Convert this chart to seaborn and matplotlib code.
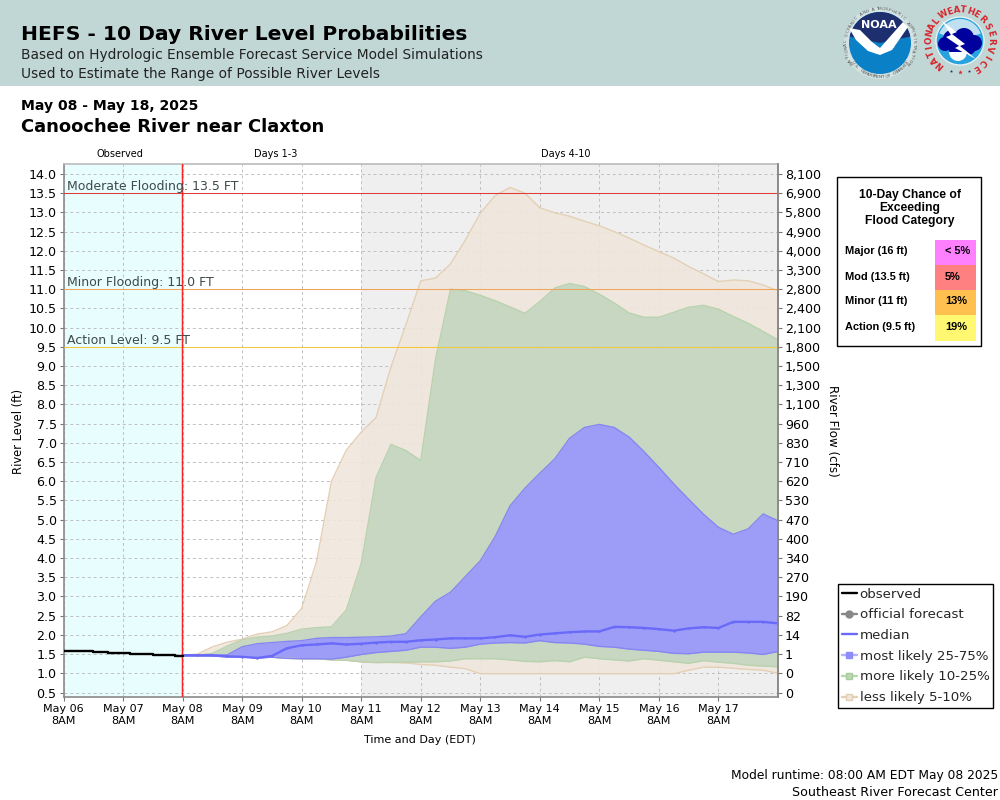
import numpy as np
import pandas as pd
import seaborn as sns
import matplotlib
matplotlib.use("Agg")
import matplotlib.pyplot as plt
from matplotlib.lines import Line2D
from matplotlib.patches import Rectangle, Circle, Polygon, Wedge

day_labels = ["May 06", "May 07", "May 08", "May 09", "May 10", "May 11",
              "May 12", "May 13", "May 14", "May 15", "May 16", "May 17"]
level_ticks = [0.5, 1.0, 1.5, 2.0, 2.5, 3.0, 3.5, 4.0, 4.5, 5.0, 5.5, 6.0, 6.5, 7.0,
               7.5, 8.0, 8.5, 9.0, 9.5, 10.0, 10.5, 11.0, 11.5, 12.0, 12.5, 13.0, 13.5, 14.0]
flow_labels = ["0", "0", "1", "14", "82", "190", "270", "340", "400", "470", "530", "620",
               "710", "830", "960", "1,100", "1,300", "1,500", "1,800", "2,100", "2,400",
               "2,800", "3,300", "4,000", "4,900", "5,800", "6,900", "8,100"]

obs_days = [0, .125, .25, .375, .5, .625, .75, .875, 1, 1.125, 1.25, 1.375, 1.5, 1.625, 1.75, 1.875, 2]
obs_level = [1.59, 1.59, 1.59, 1.58, 1.56, 1.55, 1.53, 1.53, 1.53, 1.5, 1.5, 1.5, 1.48, 1.48, 1.48, 1.46, 1.46]

fc_days = [2, 2.25, 2.5, 2.75, 3, 3.25, 3.5, 3.75, 4, 4.25, 4.5, 4.75, 5, 5.25, 5.5, 5.75, 6, 6.25, 6.5, 6.75,
           7, 7.25, 7.5, 7.75, 8, 8.25, 8.5, 8.75, 9, 9.25, 9.5, 9.75, 10, 10.25, 10.5, 10.75, 11, 11.25, 11.5, 11.75, 12]
tan_top = [1.47, 1.5, 1.69, 1.81, 1.89, 2.02, 2.08, 2.24, 2.69, 3.91, 6.0, 6.81, 7.28, 7.66, 8.98, 10.07,
           11.22, 11.29, 11.66, 12.28, 12.98, 13.44, 13.65, 13.5, 13.12, 12.99, 12.9, 12.77, 12.65, 12.5, 12.33,
           12.15, 11.98, 11.81, 11.59, 11.4, 11.2, 11.24, 11.22, 11.11, 10.96]
green_top = [1.47, 1.47, 1.52, 1.71, 1.87, 1.94, 1.97, 2.04, 2.15, 2.19, 2.21, 2.65, 3.86, 6.1, 6.96, 6.8, 6.54, 9.2,
             11.0, 10.96, 10.84, 10.7, 10.54, 10.37, 10.68, 11.03, 11.15, 11.07, 10.87, 10.64, 10.38, 10.27, 10.27,
             10.4, 10.53, 10.58, 10.48, 10.29, 10.11, 9.9, 9.68]
blue_top = [1.47, 1.47, 1.47, 1.48, 1.69, 1.77, 1.80, 1.83, 1.85, 1.91, 1.93, 1.93, 1.94, 1.95, 1.97, 2.03,
            2.47, 2.88, 3.11, 3.52, 3.93, 4.56, 5.36, 5.82, 6.21, 6.58, 7.12, 7.4, 7.48, 7.4, 7.15, 6.77, 6.36,
            5.93, 5.53, 5.14, 4.8, 4.62, 4.76, 5.15, 4.97]
median = [1.47, 1.47, 1.47, 1.44, 1.43, 1.40, 1.45, 1.65, 1.73, 1.75, 1.78, 1.75, 1.77, 1.8, 1.82, 1.82,
          1.86, 1.88, 1.91, 1.91, 1.91, 1.94, 1.99, 1.95, 2.01, 2.04, 2.07, 2.09, 2.09, 2.21, 2.2, 2.18, 2.15,
          2.11, 2.17, 2.2, 2.18, 2.34, 2.34, 2.34, 2.3]
blue_bot = [1.45, 1.45, 1.45, 1.43, 1.43, 1.40, 1.42, 1.39, 1.38, 1.38, 1.37, 1.42, 1.49, 1.54, 1.57, 1.6,
            1.68, 1.68, 1.65, 1.68, 1.76, 1.79, 1.8, 1.79, 1.85, 1.8, 1.79, 1.76, 1.70, 1.68, 1.63, 1.6, 1.57,
            1.52, 1.51, 1.55, 1.55, 1.55, 1.53, 1.49, 1.57]
green_bot = [1.45, 1.45, 1.45, 1.43, 1.43, 1.40, 1.42, 1.39, 1.38, 1.38, 1.35, 1.34, 1.30, 1.28, 1.29, 1.29,
             1.30, 1.30, 1.32, 1.38, 1.38, 1.38, 1.35, 1.31, 1.30, 1.33, 1.30, 1.42, 1.38, 1.35, 1.32, 1.38, 1.34,
             1.30, 1.26, 1.33, 1.29, 1.26, 1.21, 1.19, 1.17]
tan_bot = [1.45, 1.45, 1.45, 1.43, 1.43, 1.40, 1.42, 1.39, 1.38, 1.38, 1.35, 1.34, 1.30, 1.28, 1.28, 1.27,
           1.23, 1.21, 1.16, 1.12, .99, .99, .99, .99, .99, .99, .99, .99, .99, .99, .99, .99, .99, .99,
           1.08, 1.16, 1.16, 1.13, 1.1, 1.08, 1.0]

thresholds = [13.5, 11.0, 9.5]
threshold_labels = ["Moderate Flooding: 13.5 FT", "Minor Flooding: 11.0 FT", "Action Level: 9.5 FT"]
threshold_colors = ["#E03A3A", "#F0A45A", "#F2C83C"]

cat_names = ["Major (16 ft)", "Mod (13.5 ft)", "Minor (11 ft)", "Action (9.5 ft)"]
cat_chance = ["< 5%", "5%", "13%", "19%"]
cat_colors = ["#FF80FF", "#FF8080", "#FFC050", "#FFF870"]

sns.set_theme(style="white")
plt.rcParams["font.family"] = ["DejaVu Sans"]

TAN, GREEN, BLUE, BLUE_LINE = "#F0E7DB", "#C2D5BF", "#9895FF", "#6A6AFA"
df = pd.DataFrame({"day": fc_days, "median": median})
obs = pd.DataFrame({"day": obs_days, "level": obs_level})

fig = plt.figure(figsize=(10, 8), dpi=100, facecolor="white")

# page layer in pixel units
bg = fig.add_axes([0, 0, 1, 1], zorder=0)
bg.set_xlim(0, 1000); bg.set_ylim(800, 0); bg.axis("off")
bg.add_patch(Rectangle((0, 0), 1000, 86, fc="#C1D7D5", ec="none"))
BLK = "#000000"
bg.text(21, 40, "HEFS - 10 Day River Level Probabilities", fontsize=14.6, fontweight="bold", color=BLK, va="baseline")
bg.text(21, 59, "Based on Hydrologic Ensemble Forecast Service Model Simulations", fontsize=9.93, color="#222222", va="baseline")
bg.text(21, 78, "Used to Estimate the Range of Possible River Levels", fontsize=9.93, color="#222222", va="baseline")
bg.text(21, 110, "May 08 - May 18, 2025", fontsize=10.1, fontweight="bold", color=BLK, va="baseline")
bg.text(21, 132, "Canoochee River near Claxton", fontsize=12.9, fontweight="bold", color=BLK, va="baseline")
for cx, s in [(120, "Observed"), (276, "Days 1-3"), (566, "Days 4-10")]:
    bg.text(cx, 154, s, fontsize=7, ha="center", va="center", color=BLK)
bg.text(420, 740, "Time and Day (EDT)", fontsize=8, ha="center", va="center", color=BLK)
bg.text(19, 431, "River Level (ft)", fontsize=8.3, rotation=90, ha="center", va="center", color=BLK)
bg.text(832, 431, "River Flow (cfs)", fontsize=8.6, rotation=270, ha="center", va="center", color=BLK)
bg.text(998, 776, "Model runtime: 08:00 AM EDT May 08 2025", fontsize=8.85, ha="right", va="center", color=BLK)
bg.text(998, 792, "Southeast River Forecast Center", fontsize=9.05, ha="right", va="center", color=BLK)


def ring_text(text, cx, cy, r, start, end, size, color, weight="normal", inward=False):
    angs = np.linspace(start, end, len(text))
    for ch, a in zip(text, angs):
        t = np.deg2rad(a)
        bg.text(cx + r * np.sin(t), cy - r * np.cos(t), ch, fontsize=size, color=color, fontweight=weight,
                rotation=-a + 180 if inward else -a, ha="center", va="center", rotation_mode="anchor")


# NOAA logo
nx, ny = 880, 43
bg.add_patch(Circle((nx, ny), 36, fc="#D3E2E2", ec="none"))
bg.add_patch(Circle((nx, ny), 31, fc="#0A80C6", ec="none"))
bg.add_patch(Wedge((nx, ny), 31, 192, 348, fc="#1D2F6F", ec="none"))
bg.add_patch(Polygon([(849, 28), (860, 30), (872, 42), (880, 48), (903, 22), (908, 27), (892, 50),
                      (880, 55), (868, 51), (856, 40)], closed=True, fc="white", ec="none"))
bg.add_patch(Polygon([(872, 50), (895, 47), (877, 54)], closed=True, fc="white", ec="none"))
bg.text(nx - 1, 25, "NOAA", fontsize=8, fontweight="bold", color="white", ha="center", va="center")
ring_text("NATIONAL OCEANIC AND ATMOSPHERIC ADMINISTRATION", nx, ny, 34, -125, 125, 3.2, "#555555")
ring_text("U.S. DEPARTMENT OF COMMERCE", nx, ny, 34, 235, 125, 3.2, "#555555", inward=True)

# NWS logo
wx, wy = 960, 41
bg.add_patch(Circle((wx, wy), 24, fc="#29A3E0", ec="#E8F2F2", lw=1))
bg.add_patch(Wedge((wx, wy), 22, 200, 340, fc="#BFE0F0", ec="none"))
for dx, dy, r in [(-15, 3, 7), (-8, -2, 9), (4, -3, 10), (14, 2, 8), (-4, 6, 8), (8, 6, 8)]:
    bg.add_patch(Circle((wx + dx, wy + dy), r, fc="#00009C", ec="none"))
bg.add_patch(Wedge((wx - 2, wy + 11), 9, 0, 180, fc="white", ec="none"))
bg.add_patch(Polygon([(942, 21), (957, 32), (952, 34), (965, 44), (960, 46), (976, 59), (955, 48), (959, 46), (946, 37), (951, 35)],
                     closed=True, fc="white", ec="none"))
ring_text("NATIONAL", wx, wy, 31, -140, -50, 6.2, "#D8232A", "bold")
ring_text("WEATHER", wx, wy, 31, -32, 45, 6.2, "#D8232A", "bold")
ring_text("SERVICE", wx, wy, 31, 62, 148, 6.2, "#D8232A", "bold")
for dx, c in [(-9, "#1D2F6F"), (0, "#D8232A"), (9, "#1D2F6F")]:
    bg.scatter([wx + dx], [wy + 31 - abs(dx) * .1], s=6 if dx else 12, marker="*", color=c, linewidths=0)

# flood-category table
bg.add_patch(Rectangle((836.5, 176.5), 144, 169, fc="white", ec="black", lw=1))
for i, s in enumerate(["10-Day Chance of", "Exceeding", "Flood Category"]):
    bg.text(910, 195 + 13 * i, s, fontsize=8.7, fontweight="bold", family="Liberation Sans", ha="center", va="center", color=BLK)
for i, (n, c, col) in enumerate(zip(cat_names, cat_chance, cat_colors)):
    y0 = 240 + 25 * i
    bg.add_patch(Rectangle((935, y0), 41, 25 if i < 3 else 26, fc=col, ec="none"))
    bg.text(845, y0 + 11.5, n, fontsize=7.9, fontweight="bold", family="Liberation Sans", va="center", color=BLK)
    bg.text(945, y0 + 11.5, c, fontsize=7.9, fontweight="bold", family="Liberation Sans", va="center", color=BLK)

# main plot
ax = fig.add_axes([0.0635, 103 / 800, 0.7145, 533 / 800], zorder=2)
ax.set_facecolor("none")
ax.set_xlim(0, 12)
ax.set_ylim(0.383, 14.26)
ax.axvspan(0, 2, color="#E8FDFD", lw=0, zorder=0.1)
ax.axvspan(5, 12, color="#EFEFEF", lw=0, zorder=0.1)

ax.fill_between(fc_days, tan_bot, tan_top, color=TAN, alpha=.88, lw=0, zorder=2)
ax.fill_between(fc_days, green_bot, green_top, color=GREEN, alpha=.88, lw=0, zorder=2.1)
ax.fill_between(fc_days, blue_bot, blue_top, color=BLUE, alpha=.88, lw=0, zorder=2.2)
for series, col, z in [(tan_top, "#E5CFB5", 2.3), (tan_bot, "#E5CFB5", 2.3), (green_top, "#B8D2AE", 2.4),
                       (green_bot, "#B8D2AE", 2.4), (blue_top, "#8686F2", 2.5), (blue_bot, "#8686F2", 2.5)]:
    sns.lineplot(x=fc_days, y=series, ax=ax, color=col, lw=1.0, zorder=z, errorbar=None)
sns.lineplot(data=df, x="day", y="median", ax=ax, color=BLUE_LINE, lw=1.7, zorder=3, errorbar=None,
             marker="o", markersize=1.8, markeredgewidth=0)
sns.lineplot(data=obs, x="day", y="level", ax=ax, color="black", lw=1.7, zorder=4, errorbar=None,
             drawstyle="steps-post")

for v, s, c in zip(thresholds, threshold_labels, threshold_colors):
    ax.axhline(v, color=c, lw=.75, zorder=3.5)
    ax.text(0.06, v - 0.005, s, fontsize=9.0, color="#3F4A4A", va="bottom", ha="left", zorder=5)
ax.axvline(1.995, color="#FF2020", lw=1.05, zorder=3.6)

ax.set_xlabel(""); ax.set_ylabel("")
ax.set_xticks(range(len(day_labels)))
ax.set_xticklabels([d + "\n8AM" for d in day_labels], fontsize=8, linespacing=1.2, color="black")
ax.set_yticks(level_ticks)
ax.set_yticklabels(["%.1f" % v for v in level_ticks], fontsize=9.1, color="black")
ax.grid(True, color="#C0C0C0", ls=(0, (3, 3)), lw=.7)
ax.set_axisbelow(True)
for side in ax.spines:
    ax.spines[side].set_color("#8A8A8A"); ax.spines[side].set_linewidth(1.2)
ax.spines["top"].set_color("#BBBBBB")
ax.tick_params(axis="both", length=3, width=.8, color="#777777", pad=2, left=True, bottom=True)

ax2 = ax.twinx()
ax2.set_ylim(ax.get_ylim())
ax2.set_yticks(level_ticks)
ax2.set_yticklabels(flow_labels, fontsize=9.1, color="black")
ax2.tick_params(axis="y", length=3, width=.8, color="#777777", pad=2, right=True)
ax2.set_ylabel(""); ax2.grid(False)
for side in ax2.spines:
    ax2.spines[side].set_visible(False)
ax2.spines["right"].set_visible(True); ax2.spines["right"].set_color("#8A8A8A"); ax2.spines["right"].set_linewidth(1.2)

handles = [
    Line2D([], [], color="black", lw=1.7),
    Line2D([], [], color="#888888", lw=1.7, marker="o", ms=5),
    Line2D([], [], color=BLUE_LINE, lw=1.7),
    Line2D([], [], color="#B0B0FF", lw=1.7, marker="s", ms=5, mfc="#8C8CFA", mec="#8C8CFA"),
    Line2D([], [], color="#B8D8B0", lw=1.7, marker="s", ms=5, mfc="#BDD6B2", mec="#A8CC9E"),
    Line2D([], [], color="#E5CFB5", lw=1.7, marker="s", ms=5, mfc="#F0E6DA", mec="#E2CDB4"),
]
names = ["observed", "official forecast", "median", "most likely 25-75%", "more likely 10-25%", "less likely 5-10%"]
leg = fig.legend(handles, names, loc="upper left", bbox_to_anchor=(837.5 / 1000, 1 - 583.5 / 800), fontsize=9.6,
                 frameon=True, fancybox=False, edgecolor="black", framealpha=1, handlelength=1.15, handletextpad=.2,
                 labelspacing=.58, borderpad=.3, borderaxespad=0)
leg.get_frame().set_linewidth(1)
leg.set_zorder(10)

fig.savefig("out.png", dpi=100)
